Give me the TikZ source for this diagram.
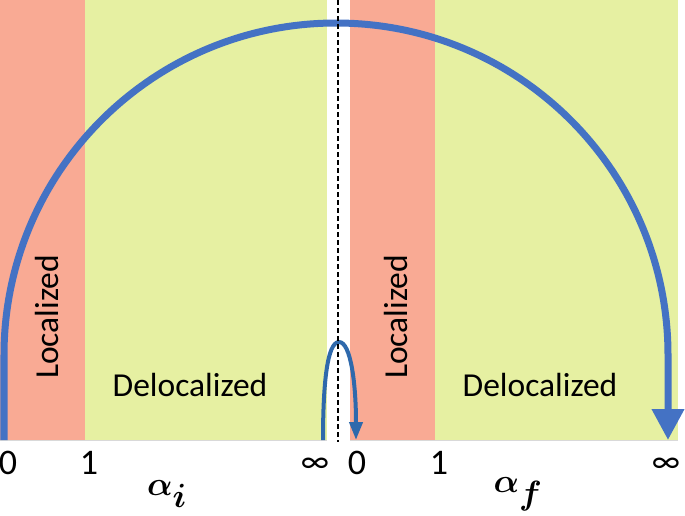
\documentclass[tikz,border=0pt]{standalone}
\usepackage{fontspec}
\setmainfont{Carlito}
\usepackage{amsmath,bm}
\usetikzlibrary{arrows.meta}
\definecolor{locred}{HTML}{F9AA94}
\definecolor{delocgreen}{HTML}{E6F0A2}
\definecolor{arcblue}{HTML}{4472C4}
\definecolor{smallblue}{HTML}{2E69AC}
\newcommand{\alphalabel}[1]{\scalebox{1.35}{$\boldsymbol{\alpha}_{\boldsymbol{#1}}$}}

\begin{document}
\begin{tikzpicture}[x=1pt,y=-1pt,every node/.style={font=\fontsize{33.5}{40}\selectfont,inner sep=0pt},
  band/.style={draw=black!15,line width=0.8pt},
  ticklabel/.style={font=\fontsize{36}{40}\selectfont},
  inflabel/.style={font=\fontsize{33}{36}\selectfont},
  bigarc/.style={draw=arcblue,line width=7pt,-{Triangle[width=31pt,length=31pt]}},
  smallarc/.style={draw=smallblue,line width=4pt,-{Triangle[width=13pt,length=18pt]}}]
\useasboundingbox (0,0) rectangle (685,515);
% panels
\fill[locred] (0,0) rectangle (85,440);
\fill[delocgreen] (85,0) rectangle (327,440);
\fill[locred] (350,0) rectangle (435,440);
\fill[delocgreen] (435,0) rectangle (678,440);
\draw[band] (0,440) -- (327,440) (350,440) -- (678,440);
\node[rotate=90] (locleft) at (47,317) {Localized};
\node (delocleft) at (190,385) {Delocalized};
\node[rotate=90] (locright) at (396,317) {Localized};
\node (delocright) at (540,385) {Delocalized};
% arcs
\coordinate (bigstart) at (4,440);
\coordinate (bigleft) at (4,355);
\coordinate (bigend) at (668,440);
\draw[bigarc] (bigstart) -- (bigleft) arc[start angle=180,end angle=0,radius=332pt] -- (bigend);
\coordinate (smallstart) at (323,440);
\coordinate (smalltop) at (339,342);
\coordinate (smallend) at (356,440);
\draw[smallarc] (smallstart) .. controls (323,385) and (327,342) .. (smalltop)
  .. controls (351,342) and (356,385) .. (smallend);
% divider
\coordinate (divtop) at (338,0);
\coordinate (divbot) at (338,442);
\draw[line width=2pt,dash pattern=on 5pt off 3pt] (divtop) -- (divbot);
% ticks
\node[ticklabel] (zeroi) at (8,463) {0};
\node[ticklabel] (onei) at (89,463) {1};
\node[inflabel] (infi) at (315,465) {∞};
\node[ticklabel] (zerof) at (357,463) {0};
\node[ticklabel] (onef) at (439,463) {1};
\node[inflabel] (inff) at (666,465) {∞};
\node (alphai) at (167,494) {\alphalabel{i}};
\node (alphaf) at (518,494) {\alphalabel{f}};
\end{tikzpicture}
\end{document}
